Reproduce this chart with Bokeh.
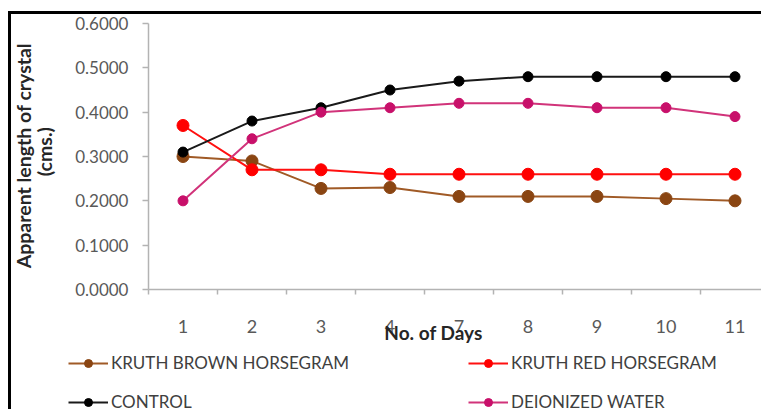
import math

from bokeh.plotting import figure
from bokeh.models import (Range1d, FixedTicker, PrintfTickFormatter, Legend,
                          LegendItem, Label, LinearAxis)
from bokeh.embed import file_html
from bokeh.resources import INLINE

# Observation days (categories on the x axis)
days = ["1", "2", "3", "4", "7", "8", "9", "10", "11"]

# Apparent crystal length (cms.) for each treatment
brown_horsegram = [0.300, 0.290, 0.228, 0.230, 0.210, 0.210, 0.210, 0.205, 0.200]
red_horsegram = [0.370, 0.270, 0.270, 0.260, 0.260, 0.260, 0.260, 0.260, 0.260]
control = [0.310, 0.380, 0.410, 0.450, 0.470, 0.480, 0.480, 0.480, 0.480]
deionized_water = [0.200, 0.340, 0.400, 0.410, 0.420, 0.420, 0.410, 0.410, 0.390]

y_ticks = [0.0, 0.1, 0.2, 0.3, 0.4, 0.5, 0.6]

# each day sits in the middle of its own unit-wide slot
x_pos = [i + 0.5 for i in range(len(days))]
slot_edges = list(range(len(days) + 1))

FONT = "Lato"
AXIS_GRAY = "#b3b3b3"
TICK_TEXT = "#595959"
TITLE_TEXT = "#262626"

# The data frame fills the whole canvas; the axes are pinned at x=0 / y=0 so
# that the axis titles and the legend underneath stay inside the frame.
p = figure(
    width=753, height=398,
    x_range=Range1d(-1.9855, 8.9275), y_range=Range1d(-0.2774, 0.6203),
    x_axis_type=None, y_axis_type=None,
    output_backend="svg", toolbar_location=None,
    min_border=0,
)
p.styles = {
    "margin-left": "8px", "margin-top": "11px",
    "border-left": "3px solid black", "border-top": "3px solid black",
}
p.outline_line_color = None
p.background_fill_color = "white"
p.border_fill_color = "white"

# x axis: labels centred in each slot, small tick marks between slots
xa = LinearAxis(fixed_location=0, bounds=(0, len(days)))
xa.ticker = FixedTicker(ticks=x_pos, minor_ticks=slot_edges)
xa.major_label_overrides = {x: d for x, d in zip(x_pos, days)}
xa.major_tick_out = 0
xa.major_tick_in = 0
xa.minor_tick_out = 5
xa.minor_tick_in = 0
xa.minor_tick_line_color = AXIS_GRAY
xa.minor_tick_line_width = 1.5
xa.axis_line_color = AXIS_GRAY
xa.axis_line_width = 1.5
xa.major_label_standoff = 25
xa.major_label_text_font = FONT
xa.major_label_text_font_size = "18px"
xa.major_label_text_color = TICK_TEXT
p.add_layout(xa, "below")

# y axis
ya = LinearAxis(fixed_location=0, bounds=(0, 0.6))
ya.ticker = FixedTicker(ticks=y_ticks, minor_ticks=[])
ya.formatter = PrintfTickFormatter(format="%.4f")
ya.major_tick_out = 6
ya.major_tick_in = 0
ya.major_tick_line_color = AXIS_GRAY
ya.major_tick_line_width = 1.5
ya.axis_line_color = AXIS_GRAY
ya.axis_line_width = 1.5
ya.major_label_standoff = 14
ya.major_label_text_font = FONT
ya.major_label_text_font_size = "17px"
ya.major_label_text_color = TICK_TEXT
p.add_layout(ya, "left")

# y axis title, two rotated lines
for txt, xv, yv in [("Apparent length of crystal", -1.8188, 0.302),
                    ("(cms.)", -1.5072, 0.311)]:
    p.add_layout(Label(x=xv, y=yv, text=txt, angle=math.pi / 2,
                       text_font=FONT, text_font_style="bold",
                       text_font_size="19.5px", text_color=TITLE_TEXT,
                       text_align="center", text_baseline="middle"))

# x axis title, sitting just under the tick labels
p.add_layout(Label(x=4.13, y=-0.097, text="No. of Days",
                   text_font=FONT, text_font_style="bold",
                   text_font_size="19px", text_color=TITLE_TEXT,
                   text_align="center", text_baseline="middle"))

series = [
    ("KRUTH BROWN HORSEGRAM", brown_horsegram, "#a05a26", "#8a4512", 12),
    ("KRUTH RED HORSEGRAM", red_horsegram, "#ff1010", "#ff0000", 12),
    ("CONTROL", control, "#1a1a1a", "#000000", 10),
    ("DEIONIZED WATER", deionized_water, "#d1337a", "#c8106a", 10),
]

items = {}
for name, vals, line_col, mark_col, size in series:
    ln = p.line(x_pos, vals, line_color=line_col, line_width=2)
    sc = p.scatter(x_pos, vals, size=size, fill_color=mark_col,
                   line_color=mark_col)
    items[name] = LegendItem(label=name, renderers=[ln, sc])


def make_legend(names, loc):
    lg = Legend(items=[items[n] for n in names], location=loc,
                orientation="vertical")
    lg.padding = 0
    lg.margin = 0
    lg.spacing = 18
    lg.glyph_width = 40
    lg.glyph_height = 20
    lg.label_height = 20
    lg.label_standoff = 3
    lg.label_text_font = FONT
    lg.label_text_font_size = "17px"
    lg.label_text_color = "#404040"
    lg.background_fill_alpha = 0
    lg.border_line_color = None
    return lg


p.add_layout(make_legend(["KRUTH BROWN HORSEGRAM", "CONTROL"], (57, 0)))
p.add_layout(make_legend(["KRUTH RED HORSEGRAM", "DEIONIZED WATER"], (457, 0)))

open("out.html", "w").write(file_html(p, INLINE))
